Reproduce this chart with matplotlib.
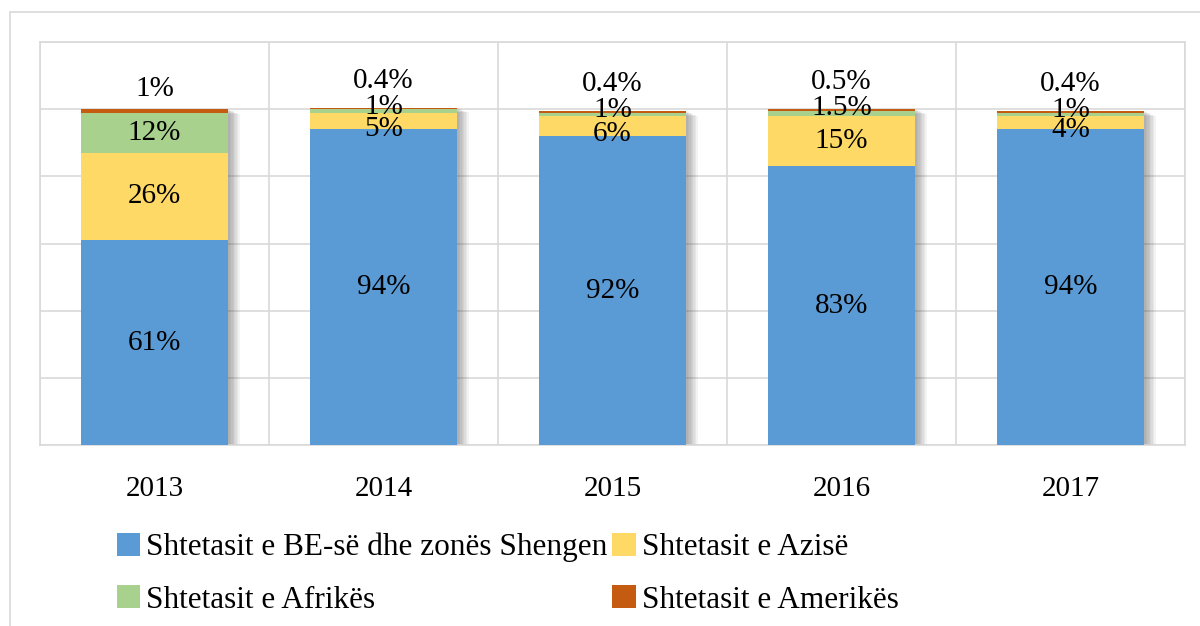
import matplotlib
matplotlib.use("Agg")
import matplotlib.pyplot as plt
import matplotlib.patheffects as pe
from matplotlib.patches import Rectangle
import numpy as np

years = ["2013", "2014", "2015", "2016", "2017"]
series_names = ["Shtetasit e BE-së dhe zonës Shengen", "Shtetasit e Azisë",
                "Shtetasit e Afrikës", "Shtetasit e Amerikës"]
eu = [61, 94, 92, 83, 94]
asia = [26, 5, 6, 15, 4]
africa = [12, 1, 1, 1.5, 1]
america = [1, 0.4, 0.4, 0.5, 0.4]
labels_eu = ["61%", "94%", "92%", "83%", "94%"]
labels_asia = ["26%", "5%", "6%", "15%", "4%"]
labels_africa = ["12%", "1%", "1%", "1.5%", "1%"]
labels_america = ["1%", "0.4%", "0.4%", "0.5%", "0.4%"]

colors = ["#5B9BD5", "#FFD966", "#A9D18E", "#C55A11"]
FONT = "Liberation Serif"
FS = 21
FS_LEG = 22.5

fig = plt.figure(figsize=(12, 6.26), dpi=100)
ax = fig.add_axes([40/1200, 1-445/626, (1185-40)/1200, (445-42)/626])

x = np.arange(len(years))
width = 0.646
data = [eu, asia, africa, america]
labels = [labels_eu, labels_asia, labels_africa, labels_america]
bottom = np.zeros(len(years))
handles = []
for vals, col, name in zip(data, colors, series_names):
    bars = ax.bar(x, vals, width, bottom=bottom, color=col, label=name, zorder=3)
    handles.append(bars)
    bottom = bottom + np.array(vals)

# soft shadow behind each stack
totals = bottom
soft = [pe.SimplePatchShadow(offset=(k, -k*0.4), shadow_rgbFace="#555555", alpha=0.07)
        for k in range(1, 9)]
for i in range(len(years)):
    r = Rectangle((x[i]-width/2, 0), width, totals[i], facecolor="white",
                  edgecolor="none", zorder=2)
    r.set_path_effects(soft)
    ax.add_patch(r)

# data labels
for i in range(len(years)):
    b0 = 0
    for s, vals in enumerate(data):
        v = vals[i]
        mid = b0 + v/2
        if s == 3:
            y = totals[i] + 8 if v < 1 else totals[i] + 6
        elif s == 2 and v < 3:
            y = totals[i] + 0.3
        elif s == 1 and v < 8:
            y = mid - 2.3
        else:
            y = mid
        ax.text(x[i], y, labels[s][i], ha="center", va="center",
                fontsize=FS, family=FONT, color="black", zorder=5)
        b0 += v

ax.set_xlim(-0.5, 4.5)
ax.set_ylim(0, 120)
ax.set_yticks(np.arange(0, 121, 20))
ax.set_yticklabels([])
ax.tick_params(axis="y", length=0)
ax.set_xticks(x)
ax.set_xticklabels(years, fontsize=FS, family=FONT)
ax.tick_params(axis="x", length=0, pad=22)
ax.set_xticks(np.arange(-0.5, 5, 1), minor=True)
ax.tick_params(axis="x", which="minor", length=0)
ax.grid(axis="y", which="major", color="#D9D9D9", linewidth=1.2, zorder=0)
ax.grid(axis="x", which="minor", color="#D9D9D9", linewidth=1.2, zorder=0)
for sp in ax.spines.values():
    sp.set_color("#D9D9D9")
    sp.set_linewidth(1.2)

# outer chart frame
fig.patches.append(Rectangle((10/1200, -0.05), 1.1, 1-12/626+0.05, transform=fig.transFigure,
                             facecolor="none", edgecolor="#D9D9D9", linewidth=1.2, zorder=0))

# row-major order: BE, Azia / Afrika, Amerika
order = [0, 2, 1, 3]
leg = fig.legend(handles=[handles[k] for k in order], labels=[series_names[k] for k in order],
                 ncol=2, loc="upper left",
                 bbox_to_anchor=(104/1200, 1-520/626), frameon=False,
                 prop={"family": FONT, "size": FS_LEG}, handlelength=0.75, handleheight=0.75,
                 handletextpad=0.2, columnspacing=0.15, labelspacing=0.75, borderaxespad=0)

fig.savefig("out.png", dpi=100)
